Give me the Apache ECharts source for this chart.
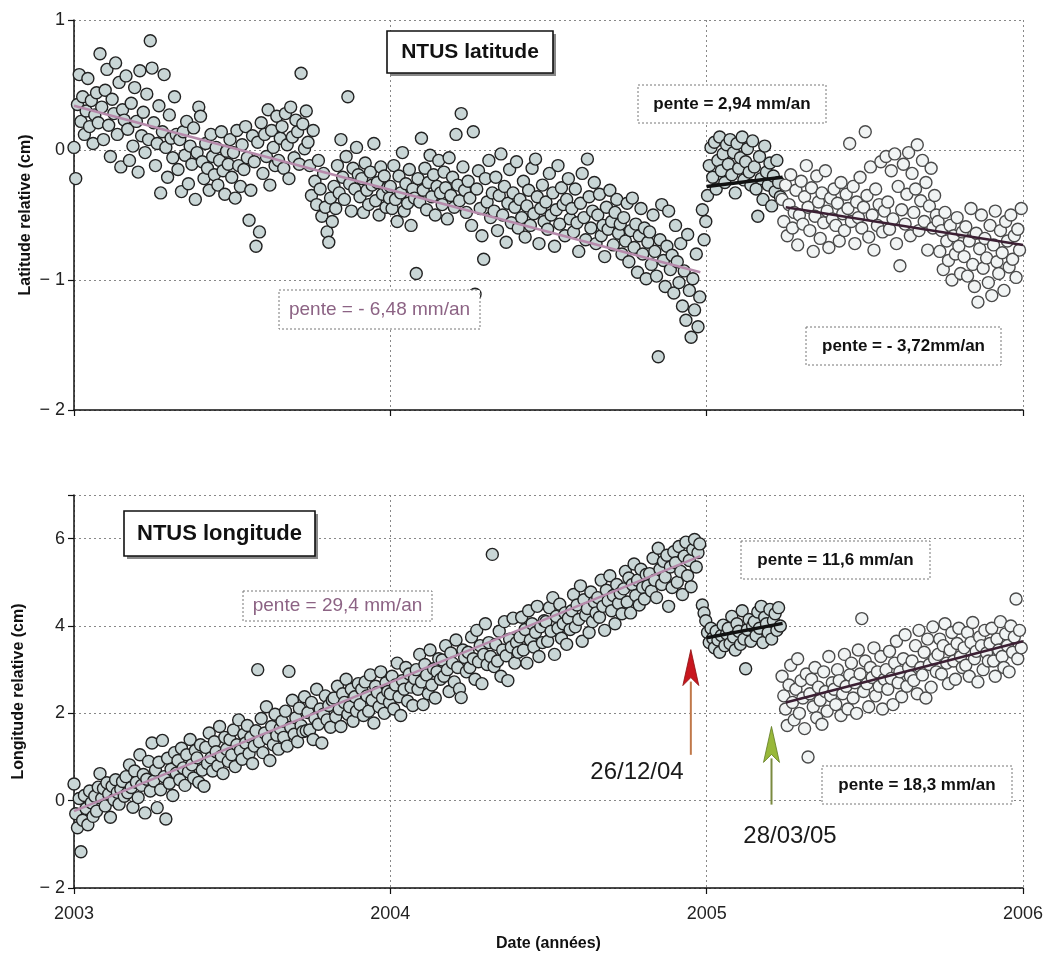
<!DOCTYPE html>
<html><head><meta charset="utf-8">
<script src="https://cdn.jsdelivr.net/npm/echarts@6/dist/echarts.min.js"></script>
<style>html,body{margin:0;padding:0;background:#fff}#c{width:1046px;height:956px}</style>
</head><body><div id="c"></div>
<script>
// ---- data: daily GPS solutions read every 2 days (cm) ----
const STEP_DAYS = 2;
const xTicks = [2003, 2004, 2005, 2006];

const lat2003Start = '2003-01-01';
const lat2003 = [
0.02,-0.22,0.35,0.58,0.22,0.41,0.12,0.30,0.55,0.18,0.38,0.05,0.27,0.44,0.21,
0.74,0.33,0.08,0.46,0.62,0.19,-0.05,0.39,0.28,0.67,0.12,0.52,-0.13,0.31,0.23,
0.57,0.16,-0.08,0.36,0.03,0.48,0.22,-0.17,0.61,0.11,0.29,-0.02,0.43,0.08,0.84,
0.63,0.21,-0.12,0.05,0.34,-0.33,0.14,0.58,0.02,-0.21,0.27,0.09,-0.06,0.41,0.12,
-0.15,0.08,-0.32,0.14,-0.04,0.22,-0.26,0.03,-0.11,0.17,-0.38,-0.02,0.33,0.26,-0.09,
-0.22,0.05,-0.14,-0.31,0.12,-0.05,-0.19,0.02,-0.27,-0.08,0.14,-0.16,-0.34,-0.01,-0.11,
0.08,-0.21,-0.02,-0.37,0.15,-0.12,-0.28,0.04,-0.15,0.18,-0.06,-0.54,-0.31,0.11,-0.09,
-0.74,0.06,-0.63,0.21,-0.18,0.12,-0.05,0.31,-0.27,0.15,0.02,-0.12,0.26,-0.08,0.09,
0.18,-0.14,0.28,0.04,-0.22,0.33,0.10,-0.06,0.23,0.14,-0.11,0.59,0.20,0.01,0.30,
0.06,-0.12,-0.35,0.15,-0.24,-0.42,-0.08,-0.30,-0.51,-0.18,-0.44,-0.63,-0.71,-0.37,-0.55,
-0.28,-0.45,-0.12,-0.33,0.08,-0.21,-0.38,-0.05,0.41,-0.26,-0.47,-0.14,-0.30,0.02,-0.19,
-0.36,-0.22,-0.48,-0.10,-0.31,-0.42,-0.17,-0.27,0.05,-0.39,-0.25,-0.50,-0.13,-0.34,-0.20,-0.44,-0.29,-0.37
];
const lat2004Start = '2004-01-01';
const lat2004 = [
-0.28,-0.45,-0.12,-0.38,-0.55,-0.20,-0.33,-0.02,-0.47,-0.26,-0.41,-0.15,-0.58,-0.30,-0.37,
-0.95,-0.22,-0.40,0.09,-0.31,-0.14,-0.46,-0.25,-0.04,-0.36,-0.19,-0.50,-0.28,-0.08,-0.33,
-0.42,-0.17,-0.29,-0.53,-0.06,-0.35,-0.21,-0.44,0.12,-0.27,-0.39,0.28,-0.13,-0.31,-0.48,
-0.24,-0.37,-0.58,0.14,-1.11,-0.30,-0.16,-0.45,-0.66,-0.84,-0.22,-0.40,-0.08,-0.52,-0.33,
-0.47,-0.21,-0.62,-0.35,-0.03,-0.50,-0.28,-0.71,-0.41,-0.15,-0.56,-0.33,-0.44,-0.09,-0.60,
-0.38,-0.52,-0.24,-0.67,-0.43,-0.31,-0.58,-0.14,-0.49,-0.07,-0.36,-0.72,-0.45,-0.27,-0.55,
-0.40,-0.61,-0.18,-0.50,-0.33,-0.74,-0.46,-0.12,-0.57,-0.29,-0.42,-0.66,-0.38,-0.22,-0.53,
-0.45,-0.63,-0.30,-0.56,-0.78,-0.41,-0.18,-0.52,-0.69,-0.07,-0.36,-0.60,-0.47,-0.25,-0.72,
-0.50,-0.34,-0.66,-0.58,-0.82,-0.44,-0.61,-0.31,-0.55,-0.73,-0.48,-0.38,-0.64,-0.57,-0.80,
-0.52,-0.70,-0.41,-0.86,-0.62,-0.37,-0.75,-0.57,-0.94,-0.66,-0.45,-0.80,-0.60,-0.99,-0.71,
-0.63,-0.88,-0.50,-0.78,-0.97,-1.59,-0.69,-0.42,-0.85,-1.05,-0.74,-0.47,-0.92,-0.81,-1.10,
-0.58,-0.86,-1.02,-0.72,-1.20,-0.93,-1.31,-0.65,-1.08,-1.44,-0.99,-1.23,-0.80,-1.36,-1.13
];
const lat2005aStart = '2004-12-27';
const lat2005a = [
-0.46,-0.69,-0.55,-0.35,-0.12,0.02,-0.21,0.06,-0.30,-0.08,0.10,-0.16,-0.03,-0.25,0.04,
-0.11,0.08,-0.19,-0.02,-0.33,0.05,-0.14,-0.06,0.10,-0.23,-0.09,0.01,-0.17,-0.27,0.07,
-0.13,-0.30,-0.51,-0.05,-0.22,-0.38,0.03,-0.17,-0.27,-0.10,-0.43,-0.20,-0.32,-0.08,-0.25,-0.36
];
const lat2005bStart = '2005-03-29';
const lat2005b = [
-0.38,-0.55,-0.27,-0.66,-0.42,-0.19,-0.60,-0.48,-0.31,-0.73,-0.50,-0.24,-0.57,-0.36,-0.12,
-0.44,-0.62,-0.29,-0.78,-0.51,-0.20,-0.40,-0.68,-0.33,-0.56,-0.16,-0.47,-0.75,-0.37,-0.53,
-0.30,-0.58,-0.41,-0.70,-0.25,-0.49,-0.62,-0.34,-0.45,0.05,-0.55,-0.28,-0.72,-0.40,-0.52,
-0.21,-0.60,-0.44,0.14,-0.35,-0.67,-0.13,-0.50,-0.77,-0.30,-0.58,-0.42,-0.09,-0.63,-0.47,
-0.05,-0.40,-0.61,-0.16,-0.53,-0.03,-0.72,-0.28,-0.89,-0.46,-0.11,-0.57,-0.34,-0.02,-0.66,
-0.18,-0.48,-0.30,0.04,-0.62,-0.39,-0.08,-0.55,-0.25,-0.77,-0.43,-0.14,-0.60,-0.35,-0.50,
-0.55,-0.78,-0.62,-0.92,-0.48,-0.70,-0.85,-0.58,-1.00,-0.66,-0.80,-0.52,-0.74,-0.95,-0.63,
-0.82,-0.59,-0.97,-0.70,-0.45,-0.88,-1.05,-0.64,-1.17,-0.76,-0.50,-0.91,-0.68,-0.83,-1.02,
-0.58,-1.12,-0.73,-0.47,-0.86,-0.95,-0.62,-0.79,-1.08,-0.55,-0.70,-0.90,-0.50,-0.84,-0.66,-0.98,-0.61,-0.77,-0.45
];

const lon2003Start = '2003-01-01';
const lon2003 = [
0.38,-0.30,-0.62,0.05,-1.17,-0.45,0.12,-0.18,-0.55,0.22,-0.05,-0.36,0.10,-0.24,0.31,
0.62,0.05,0.28,-0.12,0.41,0.15,-0.38,0.33,0.02,0.48,0.19,-0.08,0.26,0.44,0.10,
0.55,0.18,0.82,0.30,-0.15,0.68,0.42,0.07,1.05,0.35,0.60,-0.28,0.49,0.90,0.22,
1.32,0.45,0.70,-0.16,0.88,0.25,1.38,0.55,-0.42,0.97,0.40,0.72,0.12,1.10,0.63,
0.92,0.48,1.20,0.75,0.35,1.05,0.66,1.40,0.82,0.52,1.15,0.98,0.42,1.28,0.70,
0.33,1.22,0.85,1.55,0.98,0.68,1.35,1.12,0.80,1.70,1.02,0.62,1.45,1.18,0.90,
1.40,1.05,1.62,0.78,1.28,1.85,1.15,0.95,1.52,1.32,1.72,1.08,1.45,0.85,1.25,
1.60,3.00,1.35,1.88,1.10,1.55,2.15,1.42,0.92,1.70,1.28,1.98,1.50,1.18,1.65,
1.82,1.45,2.05,1.25,2.96,1.68,2.30,1.52,1.90,1.35,2.12,1.72,1.58,2.38,1.60,
2.02,1.62,2.25,1.40,1.88,2.55,1.75,2.10,1.32,1.98,2.40,1.85,2.18,1.68,2.30,
2.35,1.92,2.62,2.10,1.70,2.45,2.25,2.78,1.98,2.15,2.55,1.82,2.38,2.05,2.68,
2.20,2.55,1.95,2.72,2.40,2.05,2.88,2.30,1.78,2.62,2.48,2.15,2.95,2.35,2.00,2.70,2.50,2.25
];
const lon2004Start = '2004-01-01';
const lon2004 = [
2.45,2.85,2.10,2.65,3.15,2.38,1.95,2.75,2.55,3.05,2.28,2.90,2.60,2.18,2.80,
3.00,2.55,3.35,2.72,2.20,3.12,2.88,2.45,3.45,2.65,3.02,2.35,2.95,3.25,2.78,
3.22,2.85,3.55,3.00,2.50,3.38,3.15,2.72,3.68,3.05,2.56,2.36,3.45,3.28,2.95,
3.40,3.05,3.75,3.25,2.78,3.90,3.18,3.55,2.68,3.35,4.05,3.12,3.62,3.30,5.64,
3.07,3.58,3.20,3.88,2.85,3.45,4.10,3.32,2.75,3.70,3.52,4.18,3.15,3.62,3.40,
3.75,4.20,3.45,3.92,3.15,4.35,3.68,4.05,3.52,3.85,4.45,3.30,3.98,3.62,4.12,
4.10,3.65,4.42,3.88,4.65,3.35,4.22,3.95,4.50,3.72,4.05,4.30,3.58,4.18,3.92,
4.35,4.72,3.98,4.48,4.15,4.92,3.65,4.60,4.25,4.40,3.85,4.78,4.10,4.55,4.30,
4.65,4.20,5.05,4.45,3.90,4.82,4.58,5.15,4.35,4.70,4.05,4.95,4.52,4.75,4.28,
4.85,5.25,4.55,5.10,4.30,4.95,5.42,4.70,5.05,4.48,5.30,4.88,4.62,5.18,4.92,
5.20,4.80,5.55,5.05,4.65,5.78,5.30,4.95,5.48,5.12,5.62,4.45,5.35,4.88,5.70,
5.45,5.00,5.82,5.25,4.72,5.60,5.92,5.15,5.50,4.90,5.75,5.98,5.35,5.68,5.88
];
const lon2005aStart = '2004-12-27';
const lon2005a = [
4.48,4.30,4.12,3.85,3.62,3.95,3.72,3.50,3.88,3.68,3.40,3.78,4.02,3.55,3.82,
3.95,3.60,4.22,3.75,3.45,4.05,3.88,3.58,4.35,3.70,3.02,3.92,4.15,3.65,4.00,
4.10,3.78,4.32,3.95,4.45,3.62,4.20,4.05,3.85,4.38,3.70,4.12,4.28,3.90,4.42,4.00
];
const lon2005bStart = '2005-03-29';
const lon2005b = [
2.85,2.40,2.10,1.72,2.65,3.10,2.25,1.85,2.55,3.25,2.00,2.75,2.35,1.65,2.90,
1.00,2.45,2.78,2.15,3.05,1.90,2.60,2.30,1.75,2.95,2.50,2.05,3.30,2.40,2.70,
2.55,2.20,3.00,2.75,1.95,2.45,3.35,2.62,2.10,2.88,3.15,2.35,2.70,2.00,3.45,
2.90,4.17,2.50,3.20,2.68,2.15,3.05,2.82,3.50,2.40,2.95,2.62,3.30,2.10,2.78,
3.00,2.55,3.42,2.80,2.20,3.15,3.65,2.70,2.95,2.38,3.25,3.80,2.62,3.05,2.85,
3.20,2.75,3.55,2.45,3.90,3.05,2.88,3.40,2.35,3.70,3.12,2.60,3.98,3.25,2.95,
3.35,3.70,2.90,3.55,4.05,3.15,2.68,3.45,3.85,3.20,2.78,3.60,3.95,3.30,3.05,
3.50,3.10,3.85,2.85,3.62,4.08,3.25,3.42,2.72,3.75,3.55,3.00,3.90,3.38,3.20,
3.60,3.95,3.20,2.85,3.70,3.45,4.10,3.30,3.05,3.82,3.55,2.95,4.00,3.40,3.75,4.62,3.25,3.90,3.50
];

// linear fits [decimal year, cm]
const latTrend1 = [[2003.0, 0.34], [2004.98, -0.94]];
const latTrend2 = [[2005.0, -0.28], [2005.24, -0.21]];
const latTrend3 = [[2005.25, -0.44], [2006.0, -0.73]];
const lonTrend1 = [[2003.0, -0.24], [2004.98, 5.60]];
const lonTrend2 = [[2005.0, 3.73], [2005.24, 4.06]];
const lonTrend3 = [[2005.25, 2.25], [2006.0, 3.65]];

// earthquake arrows: [decimal year, tail cm, tip cm]
const arrowRed = [2004.95, 1.05, 3.46];
const arrowGreen = [2005.205, -0.09, 1.70];

// ---- helpers ----
function decYear(startStr, addDays) {
  const p = startStr.split('-').map(Number);
  const t = Date.UTC(p[0], p[1]-1, p[2]) + addDays*86400000;
  const d = new Date(t), y = d.getUTCFullYear();
  const s = Date.UTC(y,0,1), e = Date.UTC(y+1,0,1);
  return y + (t - s)/(e - s);
}
function pts(startStr, vals) { return vals.map((v,i) => [decYear(startStr, i*STEP_DAYS), v]); }

const FONT = '"Liberation Sans", Arial, sans-serif';
const fillA = '#c9d6d6', fillB = '#f1f4f4';
function scat(name, data, gi, fill, border) {
  return { name, type:'scatter', xAxisIndex:gi, yAxisIndex:gi, data, symbolSize:12,
    itemStyle:{color:fill, borderColor:border, borderWidth:1.4, opacity:1}, z:2, silent:true };
}
function trend(data, gi, color, w) {
  return { type:'line', xAxisIndex:gi, yAxisIndex:gi, data, showSymbol:false, symbol:'none',
    lineStyle:{color, width:w}, z:5, silent:true };
}
const minus = v => v < 0 ? '\u2212 ' + Math.abs(v) : String(v);

function xAx(gi, labels) {
  return { type:'value', gridIndex:gi, min:2003, max:2006, interval:1,
    axisLine:{show:true, onZero:false, lineStyle:{color:'#111', width:1.5}},
    axisTick:{show:true, length:6, lineStyle:{color:'#111', width:1.2}},
    axisLabel:{show:labels, fontSize:18, color:'#222', fontFamily:FONT, margin:17, formatter:v=>String(v)},
    splitLine:{show:true, lineStyle:{type:[2,3], color:'#888', width:1}},
    name: labels ? 'Date (années)' : '', nameLocation:'middle', nameGap:48, nameMoveOverlap:false,
    nameTextStyle:{fontSize:16, fontWeight:'bold', color:'#111', fontFamily:FONT} };
}
function yAx(gi, min, max, itv, name, gap, hideTop) {
  return { type:'value', gridIndex:gi, min, max, interval:itv,
    axisLine:{show:true, onZero:false, lineStyle:{color:'#111', width:1.5}},
    axisTick:{show:true, length:6, lineStyle:{color:'#111', width:1.2}},
    axisLabel:{fontSize:18, color:'#222', fontFamily:FONT, margin:9,
      formatter:v => (hideTop && v === max) ? '' : minus(v)},
    splitLine:{show:true, lineStyle:{type:[2,3], color:'#888', width:1}},
    name, nameLocation:'middle', nameGap:gap, nameRotate:90, nameMoveOverlap:false,
    nameTextStyle:{fontSize:16, fontWeight:'bold', color:'#111', fontFamily:FONT} };
}

const chart = echarts.init(document.getElementById('c'), null, {renderer:'canvas'});
chart.setOption({
  animation:false,
  backgroundColor:'#fff',
  grid:[{left:74, right:23, top:20, height:390}, {left:74, right:23, top:495, height:393}],
  xAxis:[xAx(0,false), xAx(1,true)],
  yAxis:[yAx(0,-2,1,1,'Latitude relative (cm)',40,false), yAx(1,-2,7,2,'Longitude relative (cm)',47,true)],
  series:[
    scat('lat', pts(lat2003Start,lat2003).concat(pts(lat2004Start,lat2004), pts(lat2005aStart,lat2005a)), 0, fillA, '#222'),
    scat('lat2', pts(lat2005bStart,lat2005b), 0, fillB, '#4a4a4a'),
    scat('lon', pts(lon2003Start,lon2003).concat(pts(lon2004Start,lon2004), pts(lon2005aStart,lon2005a)), 1, fillA, '#222'),
    scat('lon2', pts(lon2005bStart,lon2005b), 1, fillB, '#4a4a4a'),
    trend(latTrend1, 0, '#b68aab', 2.5), trend(latTrend2, 0, '#111', 3.5), trend(latTrend3, 0, '#3b1f33', 2.5),
    trend(lonTrend1, 1, '#b68aab', 2.5), trend(lonTrend2, 1, '#111', 3.5), trend(lonTrend3, 1, '#3b1f33', 2.5)
  ]
});

// ---- annotations ----
function box(x, y, w, h, text, o) {
  const els = [];
  if (o.shadow) els.push({type:'rect', shape:{x:x+3, y:y+3, width:w, height:h}, style:{fill:'#888'}, z:50});
  els.push({type:'rect', shape:{x, y, width:w, height:h},
    style:{fill:'#fff', stroke:o.solid ? '#111' : '#777', lineWidth:o.solid ? 1.6 : 1, lineDash:o.solid ? null : [2,2]}, z:51});
  els.push({type:'text', x:x+w/2, y:y+h/2, z:52,
    style:{text, fill:o.color || '#111', font:(o.bold ? 'bold ' : '') + o.size + 'px ' + FONT, align:'center', verticalAlign:'middle'}});
  return els;
}
const mauve = '#8c6384';
let g = [];
g = g.concat(box(387,31,166,42,'NTUS latitude',{solid:true,shadow:true,bold:true,size:21}));
g = g.concat(box(638,85,188,38,'pente = 2,94 mm/an',{bold:true,size:17}));
g = g.concat(box(279,290,201,39,'pente = - 6,48 mm/an',{size:19,color:mauve}));
g = g.concat(box(806,327,195,38,'pente = - 3,72mm/an',{bold:true,size:17}));
g = g.concat(box(124,511,191,45,'NTUS longitude',{solid:true,shadow:true,bold:true,size:22}));
g = g.concat(box(243,591,189,30,'pente = 29,4 mm/an',{size:19,color:mauve}));
g = g.concat(box(741,541,189,38,'pente = 11,6 mm/an',{bold:true,size:17}));
g = g.concat(box(822,766,190,38,'pente = 18,3 mm/an',{bold:true,size:17}));

function arrow(a, shaftColor, headColor, headEdge) {
  const tail = chart.convertToPixel({gridIndex:1}, [a[0], a[1]]);
  const tip = chart.convertToPixel({gridIndex:1}, [a[0], a[2]]);
  const x = tail[0], hl = 36, hw = 8;
  return [
    {type:'line', shape:{x1:x, y1:tail[1], x2:x, y2:tip[1]+hl-4}, style:{stroke:shaftColor, lineWidth:2}, z:40},
    {type:'polygon', shape:{points:[[x, tip[1]], [x-hw, tip[1]+hl], [x, tip[1]+hl-8], [x+hw, tip[1]+hl]]},
      style:{fill:headColor, stroke:headEdge, lineWidth:0.8}, z:41}
  ];
}
g = g.concat(arrow(arrowRed, '#c0784a', '#c8161e', '#8a1010'));
g = g.concat(arrow(arrowGreen, '#7a8a40', '#98b83a', '#5e7a20'));
g.push({type:'text', x:637, y:772, z:45, style:{text:'26/12/04', fill:'#1a1a1a', font:'24px ' + FONT, align:'center', verticalAlign:'middle'}});
g.push({type:'text', x:790, y:836, z:45, style:{text:'28/03/05', fill:'#1a1a1a', font:'24px ' + FONT, align:'center', verticalAlign:'middle'}});
chart.setOption({graphic:{elements:g}});
</script>
</body></html>
